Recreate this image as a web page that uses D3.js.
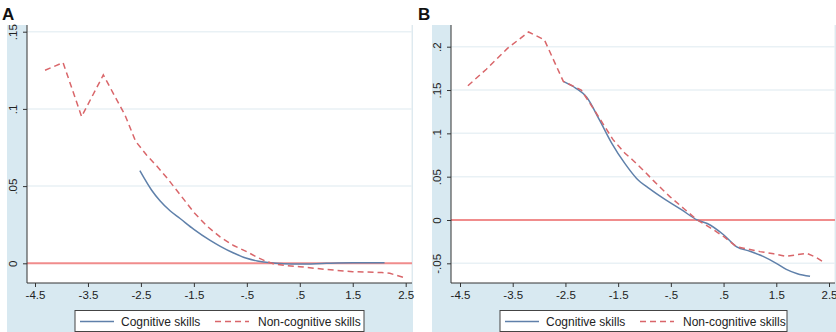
<!DOCTYPE html>
<html>
<head>
<meta charset="utf-8">
<script src="https://cdn.jsdelivr.net/npm/d3@7"></script>
<style>
  body { margin: 0; background: #fff; }
  svg { display: block; font-family: "Liberation Sans", Arial, sans-serif; }
</style>
</head>
<body>
<svg id="chart" width="836" height="332"></svg>
<script>
// x ticks shared by both panels
const xTicks = [-4.5, -3.5, -2.5, -1.5, -0.5, 0.5, 1.5, 2.5];
const xTickLabels = ["-4.5", "-3.5", "-2.5", "-1.5", "-.5", ".5", "1.5", "2.5"];

const yTicksA = [0, 0.05, 0.1, 0.15];
const yTickLabelsA = ["0", ".05", ".1", ".15"];
const yTicksB = [-0.05, 0, 0.05, 0.1, 0.15, 0.2];
const yTickLabelsB = ["-.05", "0", ".05", ".1", ".15", ".2"];

const seriesNames = ["Cognitive skills", "Non-cognitive skills"];

// panel A
const cognitiveA = [
  [-2.52, 0.060], [-2.3, 0.0475], [-2.14, 0.0405], [-1.95, 0.034], [-1.76, 0.029],
  [-1.5, 0.022], [-1.2, 0.015], [-1.0, 0.011], [-0.76, 0.0068], [-0.52, 0.0034],
  [-0.3, 0.0015], [-0.1, 0.0005], [0.2, -0.0003], [0.5, -0.0005], [1.0, 0.0],
  [1.5, 0.0003], [2.1, 0.0003]
];
const nonCognitiveA = [
  [-4.31, 0.125], [-3.97, 0.130], [-3.62, 0.095], [-3.21, 0.122], [-2.8, 0.096],
  [-2.6, 0.079], [-2.39, 0.070], [-2.2, 0.063], [-2.0, 0.055], [-1.75, 0.044],
  [-1.5, 0.033], [-1.25, 0.024], [-1.0, 0.017], [-0.75, 0.0115], [-0.5, 0.0075],
  [-0.3, 0.0038], [-0.15, 0.0015], [0.0, -0.0003], [0.25, -0.0015], [0.5, -0.0022],
  [1.0, -0.004], [1.5, -0.0054], [2.05, -0.006], [2.2, -0.0065], [2.45, -0.009]
];

// panel B
const cognitiveB = [
  [-2.54, 0.160], [-2.3, 0.152], [-2.1, 0.142], [-1.85, 0.115], [-1.62, 0.0885],
  [-1.37, 0.065], [-1.15, 0.048], [-0.9, 0.036], [-0.64, 0.025], [-0.3, 0.012],
  [0.0, 0.0], [0.19, -0.004], [0.5, -0.017], [0.75, -0.031], [1.0, -0.036],
  [1.25, -0.042], [1.5, -0.050], [1.69, -0.057], [1.9, -0.062], [2.14, -0.065]
];
const nonCognitiveB = [
  [-4.35, 0.155], [-4.0, 0.174], [-3.6, 0.198], [-3.2, 0.217], [-2.9, 0.208],
  [-2.54, 0.160], [-2.2, 0.150], [-1.9, 0.122], [-1.6, 0.093], [-1.37, 0.077],
  [-1.22, 0.069], [-1.0, 0.056], [-0.84, 0.046], [-0.52, 0.027], [-0.25, 0.013],
  [0.0, 0.0], [0.25, -0.009], [0.5, -0.019], [0.75, -0.031], [1.0, -0.034],
  [1.19, -0.0365], [1.45, -0.039], [1.69, -0.042], [1.9, -0.040], [2.08, -0.0385],
  [2.25, -0.043], [2.43, -0.050]
];

const bgColor = '#d8e9f1';
const cogColor = '#5f80aa';
const nonCogColor = '#d9666a';
const zeroColor = '#f08c8c';
const gridColor = '#e9f1f5';

const svg = d3.select('#chart');

// layout of each panel (pixel frame), kept separate from data
const panels = [
  {
    label: 'A', labelX: 2, bgX: 7, bgW: 406,
    left: 27, right: 412, top: 25, bottom: 283,
    xRange: [35, 405.7], yDomain: [0, 0.15], yRange: [263.3, 31.7],
    yTicks: yTicksA, yLabels: yTickLabelsA,
    cog: cognitiveA, nonCog: nonCognitiveA, legendX: 75, legendW: 289
  },
  {
    label: 'B', labelX: 418, bgX: 432, bgW: 404,
    left: 451, right: 835, top: 25, bottom: 283,
    xRange: [460, 829], yDomain: [0, 0.2], yRange: [220, 46.7],
    yTicks: yTicksB, yLabels: yTickLabelsB,
    cog: cognitiveB, nonCog: nonCognitiveB, legendX: 500, legendW: 287
  }
];

panels.forEach(p => {
  let g = svg.append('g');

  let x = d3.scaleLinear().domain([-4.5, 2.5]).range(p.xRange);
  let y = d3.scaleLinear().domain(p.yDomain).range(p.yRange);

  // graph region background
  g.append('rect')
    .attr('x', p.bgX).attr('y', p.top)
    .attr('width', p.bgW).attr('height', 332 - p.top)
    .attr('fill', bgColor);

  // plot region
  g.append('rect')
    .attr('x', p.left).attr('y', p.top)
    .attr('width', p.right - p.left).attr('height', p.bottom - p.top)
    .attr('fill', '#fff');

  // right edge of the plot region
  g.append('line')
    .attr('x1', p.right).attr('x2', p.right)
    .attr('y1', p.top).attr('y2', p.bottom)
    .attr('stroke', '#e3ebef').attr('stroke-width', 1);

  // gridlines
  g.selectAll('.grid')
    .data(p.yTicks.filter(d => d !== 0))
    .enter()
    .append('line')
    .attr('x1', p.left).attr('x2', p.right)
    .attr('y1', d => y(d)).attr('y2', d => y(d))
    .attr('stroke', gridColor)
    .attr('stroke-width', 1.5);

  // zero line
  g.append('line')
    .attr('x1', p.left).attr('x2', p.right)
    .attr('y1', y(0)).attr('y2', y(0))
    .attr('stroke', zeroColor)
    .attr('stroke-width', 2);

  let line = d3.line()
    .x(d => x(d[0]))
    .y(d => y(d[1]))
    .curve(d3.curveMonotoneX);

  g.append('path')
    .datum(p.cog)
    .attr('d', line)
    .attr('fill', 'none')
    .attr('stroke', cogColor)
    .attr('stroke-width', 1.5);

  g.append('path')
    .datum(p.nonCog)
    .attr('d', line.curve(d3.curveLinear))
    .attr('fill', 'none')
    .attr('stroke', nonCogColor)
    .attr('stroke-width', 1.5)
    .attr('stroke-dasharray', '6,4');

  // y axis
  let yAxis = g.append('g')
    .attr('transform', 'translate(' + p.left + ',0)')
    .call(d3.axisLeft(y).tickValues(p.yTicks)
      .tickFormat((d, i) => p.yLabels[i])
      .tickSize(4).tickSizeOuter(0));
  yAxis.select('.domain').attr('d', 'M0,' + p.top + 'V' + p.bottom).attr('stroke', '#333');
  yAxis.selectAll('.tick line').attr('stroke', '#333');
  yAxis.selectAll('.tick text')
    .attr('transform', 'rotate(-90)')
    .attr('x', 0).attr('y', -10).attr('dy', 0)
    .style('text-anchor', 'middle')
    .style('font-size', '11.5px')
    .attr('fill', '#222');

  // x axis
  let xAxis = g.append('g')
    .attr('transform', 'translate(0,' + p.bottom + ')')
    .call(d3.axisBottom(x).tickValues(xTicks)
      .tickFormat((d, i) => xTickLabels[i])
      .tickSize(4).tickSizeOuter(0));
  xAxis.select('.domain').attr('d', 'M' + p.left + ',0H' + p.right).attr('stroke', '#333');
  xAxis.selectAll('.tick line').attr('stroke', '#333');
  xAxis.selectAll('.tick text')
    .attr('y', 8)
    .style('font-size', '11.5px')
    .attr('fill', '#222');
  xAxis.attr('font-family', null);
  yAxis.attr('font-family', null);

  // panel letter
  svg.append('text')
    .text(p.label)
    .attr('x', p.labelX).attr('y', 20)
    .style('font-size', '17px')
    .style('font-weight', 'bold')
    .attr('fill', '#111');

  // legend
  let leg = g.append('g').attr('transform', 'translate(' + p.legendX + ',310.5)');
  leg.append('rect')
    .attr('width', p.legendW).attr('height', 21)
    .attr('fill', '#fff')
    .attr('stroke', '#444').attr('stroke-width', 1);
  let items = [
    {name: seriesNames[0], color: cogColor, dash: null, lx: 5, tx: 46},
    {name: seriesNames[1], color: nonCogColor, dash: '6,4', lx: 140, tx: 183}
  ];
  items.forEach(it => {
    leg.append('line')
      .attr('x1', it.lx).attr('x2', it.lx + 34)
      .attr('y1', 11).attr('y2', 11)
      .attr('stroke', it.color).attr('stroke-width', 1.5)
      .attr('stroke-dasharray', it.dash);
    leg.append('text')
      .text(it.name)
      .attr('x', it.tx).attr('y', 15.5)
      .style('font-size', '12px')
      .attr('fill', '#222');
  });
});
</script>
</body>
</html>
